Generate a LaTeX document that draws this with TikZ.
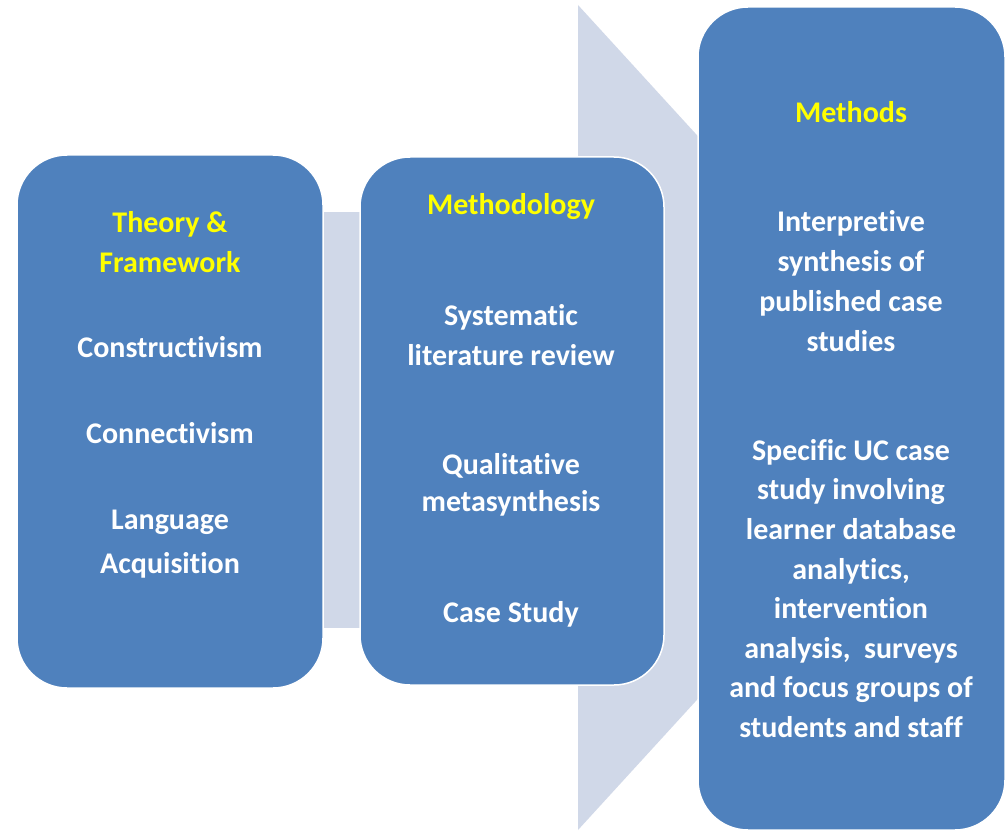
\documentclass[tikz,border=0pt]{standalone}
\usepackage{fontspec}
\setmainfont{Carlito}[RawFeature={-liga;-clig;-calt;-dlig;-rlig}]
\newlength{\du}
\setlength{\du}{1pt}
\definecolor{boxblue}{rgb}{0.309804, 0.505882, 0.741176}
\definecolor{arrowgrey}{rgb}{0.815686, 0.847059, 0.909804}
\definecolor{headyellow}{rgb}{1.000000, 1.000000, 0.000000}
\tikzset{
  stagebox/.style={draw=white, line width=1.5\du, fill=boxblue, rounded corners=50\du, inner sep=0pt},
  itemtext/.style={text=white, font=\bfseries\fontsize{30}{40}\selectfont, align=center, inner sep=0pt},
  headtext/.style={itemtext, text=headyellow},
}

\begin{document}
\begin{tikzpicture}
\pgftransformxscale{1.000000}
\pgftransformyscale{-1.000000}
\fill[white] (0\du,0\du) rectangle (1007\du,832\du);
\useasboundingbox (0\du,0\du) rectangle (1007\du,832\du);
% background arrows
\coordinate (bartop) at (300\du,212\du);
\coordinate (barbot) at (390\du,628\du);
\fill[arrowgrey] (bartop) rectangle (barbot);
\coordinate (arrowtop) at (578\du,5\du);
\coordinate (arrowtip) at (955\du,417.5\du);
\coordinate (arrowbot) at (578\du,830\du);
\fill[arrowgrey] (arrowtop)--(arrowtip)--(arrowbot)--cycle;
% boxes
\node[stagebox, minimum width=306\du, minimum height=533\du] (theory) at (170\du,421.5\du) {};
\node[stagebox, minimum width=304\du, minimum height=528\du] (methodology) at (512\du,421\du) {};
\node[stagebox, minimum width=307\du, minimum height=823\du] (methods) at (851.5\du,418.5\du) {};
% setfont left to latex
\node[headtext] (theoryhead) at (170\du,242.5\du) {Theory \&\\Framework};
\node[itemtext] (constructivism) at (170\du,347\du) {Constructivism};
\node[itemtext] (connectivism) at (170\du,433\du) {Connectivism};
\node[itemtext, font=\bfseries\fontsize{30}{44}\selectfont] (language) at (170\du,544\du) {Language\\Acquisition};
% setfont left to latex
\node[headtext] (methodologyhead) at (511\du,207\du) {Methodology};
\node[itemtext] (review) at (511\du,335\du) {Systematic\\literature review};
\node[itemtext, font=\bfseries\fontsize{30}{37}\selectfont] (metasynthesis) at (511\du,484.5\du) {Qualitative\\metasynthesis};
\node[itemtext] (casestudy) at (511\du,614\du) {Case Study};
% setfont left to latex
\node[headtext] (methodshead) at (851\du,112\du) {Methods};
\node[itemtext] (interpretive) at (851\du,281.5\du) {Interpretive\\synthesis of\\published case\\studies};
\node[itemtext, font=\bfseries\fontsize{30}{39.6}\selectfont] (specific) at (851\du,588.5\du) {Specific UC case\\study involving\\learner database\\analytics,\\intervention\\analysis,~ surveys\\and focus groups of\\students and staff};
\end{tikzpicture}
\end{document}
